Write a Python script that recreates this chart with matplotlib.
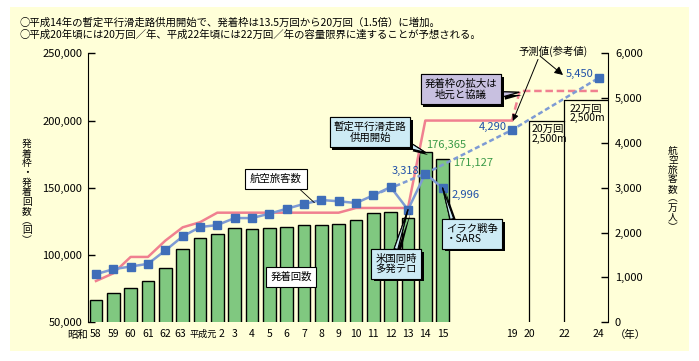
import numpy as np
import matplotlib.pyplot as plt
from matplotlib.patches import Rectangle
from matplotlib.transforms import ScaledTranslation
import matplotlib.patheffects as pe

plt.rcParams['font.family'] = ['Noto Sans CJK JP', 'DejaVu Sans']

W, H = 699, 361

# データ
year_labels = ['58', '59', '60', '61', '62', '63', '平成元', '2', '3', '4', '5', '6', '7',
               '8', '9', '10', '11', '12', '13', '14', '15', '19', '20', '22', '24']
year_pos = list(range(21)) + [24, 25, 27, 29]

# 発着回数（回）
flights = [66400, 71500, 75300, 80700, 90100, 104300, 112400, 115600, 119900, 119200,
           119900, 120600, 122100, 122100, 122900, 125800, 131000, 131800, 127300,
           176365, 171127]

# 発着枠（回）
slots_x = list(range(21)) + [24]
slots = [80700, 86400, 98600, 98600, 110700, 120600, 124400, 131500, 131500, 131500,
         131500, 131500, 131500, 131500, 131500, 135000, 135000, 135000, 135000,
         200000, 200000, 200000]
slots_plan_x = [24, 24.45, 29]
slots_plan = [200000, 222000, 222000]

# 航空旅客数（万人）
pax = [1073, 1185, 1244, 1304, 1602, 1915, 2124, 2169, 2325, 2325, 2422, 2533, 2640,
       2727, 2700, 2660, 2832, 3018, 2511, 3318, 2996]
pax_fc_x = [16, 19, 24, 29]
pax_fc = [2832, 3318, 4290, 5450]

# 容量限界
cap_x = [25, 27]
cap_top = [200000, 215000]


def px(x, y):
    return (x, H - y)


fig = plt.figure(figsize=(W / 100, H / 100), dpi=100)
fig.patch.set_facecolor('white')
fig.patches.append(Rectangle((10 / W, 1 - 351 / H), 679 / W, 344 / H,
                             transform=fig.transFigure, fc='#FFFFD8', ec='none', zorder=-10))

ax = fig.add_axes([88 / W, 1 - 322.3 / H, 520 / W, 269 / H])
ax.set_facecolor('none')
ax2 = ax.twinx()

# 棒グラフ
ax.bar(range(21), flights, width=0.73, color='#80C880', edgecolor='black', linewidth=1, zorder=2)

# 容量の枠
ax.plot([cap_x[0], cap_x[0], cap_x[1]], [50000, cap_top[0], cap_top[0]], color='black', lw=0.9, zorder=2)
ax.plot([cap_x[1], cap_x[1], 29.6], [50000, cap_top[1], cap_top[1]], color='black', lw=0.9, zorder=2)
ax.text(cap_x[0] + 0.15, cap_top[0] - 2500, '20万回\n2,500m', fontsize=7.5, va='top', ha='left',
        linespacing=0.95)
ax.text(cap_x[1] + 0.3, cap_top[1] - 2500, '22万回\n2,500m', fontsize=7.5, va='top', ha='left',
        linespacing=0.95)

# 発着枠
ax.plot(slots_x, slots, color='#F08090', lw=1.8, zorder=3)
ax.plot(slots_plan_x, slots_plan, color='#F08090', lw=1.8, ls=(0, (3, 1.5)), zorder=3)

# 航空旅客数
ax2.plot(range(21), pax, color='#7E9BD4', lw=1.8, zorder=4)
ax2.plot(pax_fc_x, pax_fc, color='#7E9BD4', lw=1.8, ls=(0, (2, 1.2)), zorder=4)
ax2.plot(range(21), pax, ls='none', marker='s', ms=5.5, color='#3F6EB8', zorder=5)
ax2.plot(pax_fc_x[2:], pax_fc[2:], ls='none', marker='s', ms=5.5, color='#3F6EB8', zorder=5)

ax.set_xlim(-0.46, 29.54)
ax.set_ylim(50000, 250000)
ax2.set_ylim(0, 6000)

ax.set_yticks(np.arange(50000, 250001, 50000))
ax.set_yticklabels([f'{v:,}' for v in range(50000, 250001, 50000)])
ax2.set_yticks(np.arange(0, 6001, 1000))
ax2.set_yticklabels([f'{v:,}' for v in range(0, 6001, 1000)])
ax.set_xticks(year_pos)
ax.set_xticklabels(year_labels)

ax.tick_params(axis='y', direction='in', length=5, width=1, labelsize=8, pad=4)
ax2.tick_params(axis='y', direction='in', length=5, width=1, labelsize=8, pad=5)
ax.tick_params(axis='x', length=0, labelsize=7.5, pad=5)

# 「63平成元2」が詰まって見えるように位置を微調整
xl = ax.get_xticklabels()
for i, dx, fs in [(5, -1.5, 7.5), (6, 2.0, 6.6), (7, 3.0, 7.5)]:
    xl[i].set_fontsize(fs)
    xl[i].set_transform(xl[i].get_transform() + ScaledTranslation(dx / 72, 0, fig.dpi_scale_trans))

for a in (ax, ax2):
    for s in ('top', 'bottom'):
        a.spines[s].set_visible(False)
ax.spines['right'].set_visible(False)
ax2.spines['left'].set_visible(False)

fig.text(88 / W, 1 - 335 / H, '昭和', fontsize=7.5, ha='right', va='center')
fig.text(615 / W, 1 - 335 / H, '（年）', fontsize=7.5, ha='left', va='center')

# 軸ラベル
fig.text(27 / W, 1 - 192 / H, '\n'.join('発着枠・発着回数︵回︶'), fontsize=7, ha='center',
         va='center', linespacing=0.95)
fig.text(673 / W, 1 - 189 / H, '\n'.join('航空旅客数︵万人︶'), fontsize=7, ha='center',
         va='center', linespacing=0.95)

# 上部の説明文
fig.text(20 / W, 1 - 23 / H, '○平成14年の暫定平行滑走路供用開始で、発着枠は13.5万回から20万回（1.5倍）に増加。',
         fontsize=7.5, ha='left', va='center')
fig.text(20 / W, 1 - 35 / H, '○平成20年頃には20万回／年、平成22年頃には22万回／年の容量限界に達することが予想される。',
         fontsize=7.5, ha='left', va='center')

# 数値ラベル
green = '#3A9A48'
blue = '#2050A8'
ax.text(19.05, flights[19] + 1500, f'{flights[19]:,}', color=green, fontsize=8, ha='left', va='bottom')
ax.text(20.6, flights[20] - 2500, f'{flights[20]:,}', color=green, fontsize=8, ha='left', va='center')
ax2.text(18.65, pax[19] + 60, f'{pax[19]:,}', color=blue, fontsize=8, ha='right', va='center')
ax2.text(20.5, pax[20] - 150, f'{pax[20]:,}', color=blue, fontsize=8, ha='left', va='center')
ax2.text(23.7, pax_fc[2] + 60, f'{pax_fc[2]:,}', color=blue, fontsize=8, ha='right', va='center')
ax2.text(28.7, pax_fc[3] + 80, f'{pax_fc[3]:,}', color=blue, fontsize=8, ha='right', va='center')


def shadow(ann):
    fx = [pe.withSimplePatchShadow(offset=(2, -2), shadow_rgbFace='black', alpha=1), pe.Normal()]
    ann.get_bbox_patch().set_path_effects(fx)
    ann.arrow_patch.set_path_effects(fx)


def callout(a, text, xy, xytext, fc, relpos, tw=0.5):
    ann = a.annotate(text, xy=xy, xycoords='data', xytext=px(*xytext), textcoords='figure pixels',
                     fontsize=7.5, ha='center', va='center', linespacing=1.1, zorder=8,
                     bbox=dict(boxstyle='square,pad=0.4', fc=fc, ec='black', lw=0.8),
                     arrowprops=dict(arrowstyle=f'wedge,tail_width={tw},shrink_factor=0.5', fc=fc,
                                     ec='black', lw=0.8, shrinkA=0, shrinkB=0, relpos=relpos))
    shadow(ann)
    return ann


callout(ax, '暫定平行滑走路\n供用開始', (19, flights[19]), (370, 132), '#CDEBF5', (0.88, 0.1))
callout(ax2, '米国同時\n多発テロ', (18, pax[18]), (396, 264), '#CDEBF5', (0.45, 0.9), tw=0.35)
ann = callout(ax2, 'イラク戦争\n・SARS', (20, pax[20]), (472, 234), '#CDEBF5', (0.15, 0.9), tw=0.35)
ann.set_multialignment('left')
callout(ax, '発着枠の拡大は\n地元と協議', (24.4, 221000), (461, 89), '#C8C0E0', (0.95, 0.2))

# 白い凡例ボックス
ax2.annotate('航空旅客数', xy=(12.6, 2668), xycoords='data', xytext=px(276, 179),
             textcoords='figure pixels', fontsize=7.5, ha='center', va='center', zorder=8,
             bbox=dict(boxstyle='square,pad=0.45', fc='white', ec='black', lw=0.8),
             arrowprops=dict(arrowstyle='-', color='black', lw=0.6, shrinkA=0, shrinkB=0,
                             relpos=(0.85, 0)))
fig.text(291 / W, 1 - 277 / H, '発着回数', fontsize=7.5, ha='center', va='center', zorder=8,
         bbox=dict(boxstyle='square,pad=0.45', fc='white', ec='black', lw=0.8))

# 予測値
ax2.annotate('予測値(参考値)', xy=(24.05, pax_fc[2] + 200), xycoords='data', xytext=px(553, 51),
             textcoords='figure pixels', fontsize=7.5, ha='center', va='center', zorder=8,
             arrowprops=dict(arrowstyle='-|>,head_length=0.5,head_width=0.25', color='black', lw=0.7,
                             shrinkA=0, shrinkB=0, relpos=(0.3, 0)))
ax2.annotate('', xy=px(563, 75), xycoords='figure pixels', xytext=px(540, 56),
             textcoords='figure pixels', zorder=8,
             arrowprops=dict(arrowstyle='-|>,head_length=0.5,head_width=0.25', color='black', lw=0.7,
                             shrinkA=0, shrinkB=0))

fig.savefig('out.png', dpi=100)
